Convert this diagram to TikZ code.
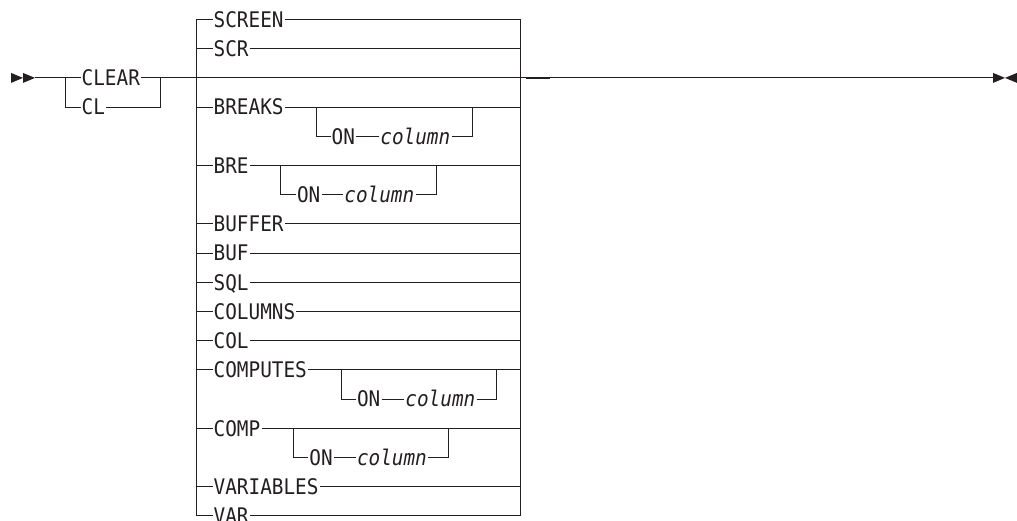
\documentclass[tikz,border=0pt]{standalone}
\usepackage{fontspec}
\newfontfamily\rrfont{DejaVu Sans Mono}[FakeStretch=0.9]
\definecolor{ink}{RGB}{35,31,32}
\begin{document}
\begin{tikzpicture}[x=1pt,y=-1pt,
  ln/.style={line width=1pt, draw=ink},
  kw/.style={font=\rrfont\fontsize{21.5}{24}\selectfont, text=ink, inner xsep=1pt, inner ysep=0pt, text height=15.6pt, text depth=0pt, anchor=west},
  var/.style={kw, font=\rrfont\itshape\fontsize{21.5}{24}\selectfont}]
\useasboundingbox (0,0) rectangle (1017,521);
% start / end markers
\fill[ink] (11,72.9) -- (23,77.9) -- (11,82.9) -- cycle;
\fill[ink] (23,72.9) -- (35,77.9) -- (23,82.9) -- cycle;
\fill[ink] (993,72.9) -- (1005,77.9) -- (993,82.9) -- cycle;
\fill[ink] (1017,72.9) -- (1005,77.9) -- (1017,82.9) -- cycle;
\coordinate (s0) at (35,77.9);
\coordinate (cA) at (65.7,77.9);
\coordinate (cB) at (160.7,77.9);
\coordinate (bigL) at (196.7,77.9);
\coordinate (bigR) at (520,77.9);
\coordinate (e0) at (993,77.9);
% CLEAR / CL
\node[kw] (clear) at (80.5,77.9) {CLEAR};
\node[kw] (cl) at (80.5,107.1) {CL};
\draw[ln] (s0) -- (cA) -- (clear.west);
\draw[ln] (clear.east) -- (cB) -- (bigL) -- (bigR) -- (e0);
\draw[ln] (cA) |- (cl.west);
\draw[ln] (cl.east) -| (cB);
\draw[line width=1.8pt, draw=ink] (526,77.9) -- (550,77.9);
% big choice box
\coordinate (Ltop) at (196.7,19.5);
\coordinate (Lbot) at (196.7,515.9);
\coordinate (Rtop) at (520,19.5);
\coordinate (Rbot) at (520,515.9);
\draw[ln] (Ltop) -- (Lbot);
\draw[ln] (Rtop) -- (Rbot);
\foreach \n/\t/\y in {scr0/SCREEN/19.5, scr1/SCR/48.7, brk/BREAKS/107.1, bre/BRE/165.5, buffer/BUFFER/223.9, buf/BUF/253.1, sql/SQL/282.3, columns/COLUMNS/311.5, col/COL/340.7, computes/COMPUTES/369.9, comp/COMP/428.3, variables/VARIABLES/486.7, var/VAR/515.9} {
  \coordinate (\n-l) at (196.7,\y);
  \coordinate (\n-r) at (520,\y);
  \node[kw] (\n) at (212.5,\y) {\t};
  \draw[ln] (\n-l) -- (\n.west);
  \draw[ln] (\n.east) -- (\n-r);
}
% optional ON column sub-branches
\foreach \k/\y/\yy/\xl/\xr/\xo/\xc in {a/107.1/136.3/316.7/472.7/330.5/379.2, b/165.5/194.7/280/436.7/295.8/343.2, c/369.9/399.1/341/496/355.8/404.2, d/428.3/457.5/293.3/448.3/308.2/355.8} {
  \coordinate (\k-l) at (\xl,\y);
  \coordinate (\k-r) at (\xr,\y);
  \node[kw] (on\k) at (\xo,\yy) {ON};
  \node[var] (col\k) at (\xc,\yy) {column};
  \draw[ln] (\k-l) |- (on\k.west);
  \draw[ln] (on\k.east) -- (col\k.west);
  \draw[ln] (col\k.east) -| (\k-r);
}
\end{tikzpicture}
\end{document}
